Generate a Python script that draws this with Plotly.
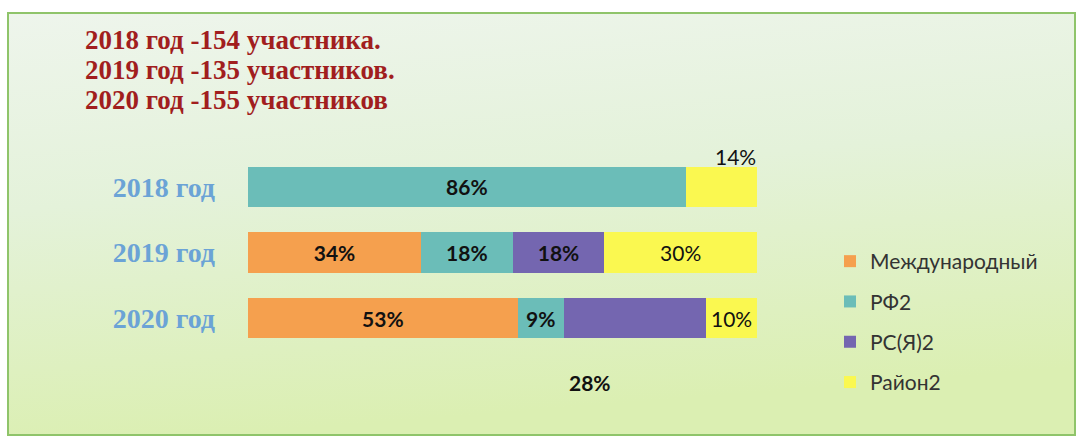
import plotly.graph_objects as go
import base64

years = ["2018 год", "2019 год", "2020 год"]
series_names = ["Международный", "РФ2", "РС(Я)2", "Район2"]
intl = [0, 34, 53]
rf = [86, 18, 9]
rs = [0, 18, 28]
rayon = [14, 30, 10]
header_lines = ["2018 год -154 участника.", "2019 год -135 участников.", "2020 год -155 участников"]

colors = ["#F5A04E", "#6BBDB8", "#7466B0", "#FAF850"]
LBL_FONT = "Lato, Open Sans, sans-serif"

def labels(vals, bold, hide):
    out = []
    for i, v in enumerate(vals):
        if v == 0 or i in hide:
            out.append("")
        else:
            t = f"{v}%"
            out.append(f"<b>{t}</b>" if bold[i] else t)
    return out

fig = go.Figure()
data = [intl, rf, rs, rayon]
bolds = [[True, True, True], [True, True, True], [True, True, True], [False, False, False]]
hides = [set(), set(), {2}, {0}]
for name, vals, col, b, h in zip(series_names, data, colors, bolds, hides):
    fig.add_trace(go.Bar(
        y=years, x=vals, name=name, orientation="h",
        marker=dict(color=col, line=dict(width=0)),
        text=labels(vals, b, h), textposition="inside", insidetextanchor="middle",
        textfont=dict(family=LBL_FONT, size=21, color="#111"),
        legendgroup=name, cliponaxis=False,
    ))

# outside labels
fig.add_annotation(x=intl[0] + rf[0] + rayon[0] / 2, y=years[0], xref="x", yref="y",
                   text=f"{rayon[0]}%", showarrow=False, yshift=30, xshift=14,
                   font=dict(family=LBL_FONT, size=21, color="#111"))
fig.add_annotation(x=intl[2] + rf[2] + rs[2] / 2, y=years[2], xref="x", yref="y",
                   text=f"<b>{rs[2]}%</b>", showarrow=False, yshift=-64, xshift=-45,
                   font=dict(family=LBL_FONT, size=21, color="#111"))

# header text
for i, line in enumerate(header_lines):
    fig.add_annotation(x=0.077, y=0.909 - i * 0.0685, xref="paper", yref="paper",
                       xanchor="left", yanchor="middle", text=f"<b>{line}</b>", showarrow=False,
                       font=dict(family="Liberation Serif, Times New Roman, serif", size=27, color="#A11E1E"))

svg = ('<svg xmlns="http://www.w3.org/2000/svg" width="100" height="100" preserveAspectRatio="none">'
       '<defs><linearGradient id="g" x1="0" y1="0" x2="0.2" y2="1">'
       '<stop offset="0" stop-color="#EEF5EC"/><stop offset="0.45" stop-color="#E4F2DA"/>'
       '<stop offset="1" stop-color="#DBEFB2"/></linearGradient></defs>'
       '<rect width="100" height="100" fill="url(#g)"/></svg>')
src = "data:image/svg+xml;base64," + base64.b64encode(svg.encode()).decode()

W, H = 1079, 438
fig.add_layout_image(source=src, xref="paper", yref="paper", x=8 / W, y=1 - 13 / H,
                     sizex=(1075 - 8) / W, sizey=(435 - 13) / H, sizing="stretch",
                     xanchor="left", yanchor="top", layer="below")
fig.add_shape(type="rect", xref="paper", yref="paper", x0=8 / W, x1=1075 / W,
              y0=1 - 435 / H, y1=1 - 13 / H, line=dict(color="#8FC46A", width=2), layer="above")

fig.update_layout(
    width=W, height=H, barmode="stack", bargap=0.39,
    margin=dict(l=0, r=0, t=0, b=0),
    paper_bgcolor="white", plot_bgcolor="rgba(0,0,0,0)",
    xaxis=dict(domain=[248 / W, 757 / W], range=[0, 100], visible=False, fixedrange=True),
    yaxis=dict(domain=[1 - 351 / H, 1 - 154 / H], autorange="reversed", showgrid=False,
               zeroline=False, showline=False, ticks="", ticklabelstandoff=32,
               tickfont=dict(family="Liberation Serif, Times New Roman, serif", size=28, color="#6BA3D6"),
               tickprefix="<b>", ticksuffix="</b>"),
    legend=dict(x=830 / W, y=1 - 241 / H, xanchor="left", yanchor="top",
                traceorder="grouped", tracegroupgap=10, bgcolor="rgba(0,0,0,0)",
                font=dict(family=LBL_FONT, size=21, color="#333"),
                itemwidth=30),
    showlegend=True,
)

fig.write_html("out.html", config={"displayModeBar": False})

with open("out.html", "r", encoding="utf-8") as f:
    html = f.read()
html = html.replace("<head>", "<head><style>html,body{margin:0;padding:0;overflow:hidden;}</style>", 1)
with open("out.html", "w", encoding="utf-8") as f:
    f.write(html)
